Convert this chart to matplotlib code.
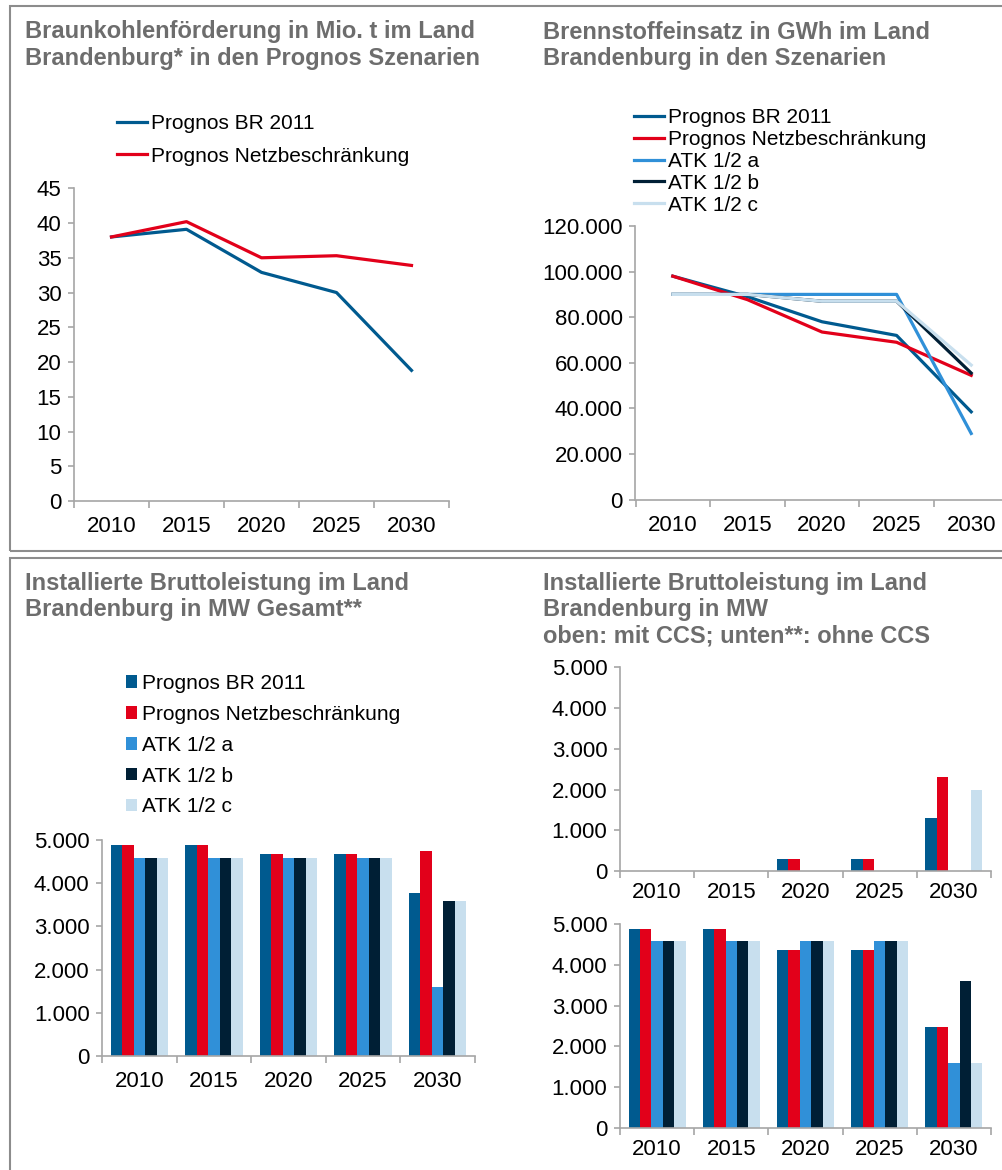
import matplotlib
matplotlib.use("Agg")
import matplotlib.pyplot as plt
import numpy as np
from matplotlib.patches import Rectangle
from matplotlib.ticker import FuncFormatter, FixedLocator

# FARBEN / SCHRIFT
plt.rcParams['font.family'] = ['Liberation Sans', 'DejaVu Sans']
cBR = "#005A8F"
cNetz = "#E2001A"
cA = "#3090D8"
cB = "#001F35"
cC = "#C8DFEE"
grauTitel = "#6D6D6D"
grauAchse = "#A6A6A6"
fs = 16        # Achsenbeschriftung
fsLeg = 15     # Legende

# DATEN
jahre = ['2010', '2015', '2020', '2025', '2030']
serien = ['Prognos BR 2011', 'Prognos Netzbeschränkung', 'ATK 1/2 a', 'ATK 1/2 b', 'ATK 1/2 c']
farben = [cBR, cNetz, cA, cB, cC]

kohle_br = [38.0, 39.1, 32.9, 30.0, 18.8]
kohle_netz = [38.0, 40.2, 35.0, 35.3, 33.9]

brenn_br = [98000, 89000, 78000, 72000, 38500]
brenn_netz = [98000, 87700, 73500, 69000, 54500]
brenn_a = [90000, 90000, 90000, 90000, 29000]
brenn_b = [90000, 90000, 87000, 87000, 55500]
brenn_c = [90000, 90000, 87000, 87000, 59000]

ges_br = [4880, 4880, 4680, 4680, 3770]
ges_netz = [4880, 4880, 4680, 4680, 4750]
ges_a = [4590, 4590, 4590, 4590, 1600]
ges_b = [4590, 4590, 4590, 4590, 3590]
ges_c = [4590, 4590, 4590, 4590, 3590]

ccs_br = [0, 0, 300, 300, 1300]
ccs_netz = [0, 0, 300, 300, 2300]
ccs_a = [0, 0, 0, 0, 0]
ccs_b = [0, 0, 0, 0, 0]
ccs_c = [0, 0, 0, 0, 2000]

ohne_br = [4880, 4880, 4370, 4370, 2480]
ohne_netz = [4880, 4880, 4370, 4370, 2480]
ohne_a = [4590, 4590, 4590, 4590, 1600]
ohne_b = [4590, 4590, 4590, 4590, 3600]
ohne_c = [4590, 4590, 4590, 4590, 1600]

W, H = 1003, 1170
fig = plt.figure(figsize=(W / 100, H / 100), dpi=100)


def px(x0, ytop, x1, ybot):
    """Achsenposition aus Pixelkoordinaten (oben links) in Figurbruchteile"""
    return [x0 / W, 1 - ybot / H, (x1 - x0) / W, (ybot - ytop) / H]


def tausender(v, pos):
    return f"{int(round(v)):,}".replace(",", ".")


def stil(ax, ymax, ystep, fmt=None, xpad=11):
    n = len(jahre)
    ax.set_xlim(-0.5, n - 0.5)
    ax.set_ylim(0, ymax)
    ax.set_yticks(np.arange(0, ymax + 1, ystep))
    if fmt:
        ax.yaxis.set_major_formatter(FuncFormatter(fmt))
    ax.set_xticks(range(n))
    ax.set_xticklabels(jahre)
    ax.xaxis.set_minor_locator(FixedLocator(np.arange(-0.5, n, 1)))
    for s in ['top', 'right']:
        ax.spines[s].set_visible(False)
    for s in ['left', 'bottom']:
        ax.spines[s].set_color(grauAchse)
        ax.spines[s].set_linewidth(1.2)
    ax.tick_params(axis='x', which='major', length=0, pad=xpad, labelsize=fs)
    ax.tick_params(axis='x', which='minor', length=5, width=1.2, color=grauAchse, direction='out')
    ax.tick_params(axis='y', length=4, width=1.2, color=grauAchse, pad=5, labelsize=fs)


def balken(ax, reihen):
    x = np.arange(len(jahre))
    bw = 0.154
    for i, (werte, farbe) in enumerate(zip(reihen, farben)):
        ax.bar(x + (i - 2) * bw, werte, bw, color=farbe, linewidth=0, label=serien[i])


def titel(x, y0, zeilen, dy):
    for i, z in enumerate(zeilen):
        fig.text(x / W, 1 - (y0 + i * dy) / H, z, fontsize=17, fontweight='bold',
                 color=grauTitel, ha='left', va='baseline')


# RAHMEN
fig.patches.append(Rectangle((10 / W, 1 - 551 / H), 1.1, 545 / H, transform=fig.transFigure,
                             fill=False, edgecolor='#8C8C8C', linewidth=1.5))
fig.patches.append(Rectangle((10 / W, -0.1), 1.1, 0.1 + 1 - 558 / H, transform=fig.transFigure,
                             fill=False, edgecolor='#8C8C8C', linewidth=1.5))

# OBEN LINKS: Braunkohlenfoerderung
ax1 = fig.add_axes(px(74, 188.3, 449, 501))
ax1.plot(range(5), kohle_br, color=cBR, lw=2.3, label=serien[0])
ax1.plot(range(5), kohle_netz, color=cNetz, lw=2.3, label=serien[1])
stil(ax1, 45, 5)
ax1.legend(loc='upper left', bbox_to_anchor=(117 / W, 1 - 114 / H), bbox_transform=fig.transFigure,
           frameon=False, fontsize=fsLeg, handlelength=1.45, handletextpad=0.2, borderpad=0,
           borderaxespad=0, labelspacing=0.65)
titel(25, 38, ["Braunkohlenförderung in Mio. t im Land",
               "Brandenburg* in den Prognos Szenarien"], 27)

# OBEN RECHTS: Brennstoffeinsatz
ax2 = fig.add_axes(px(635.5, 226, 1008.5, 499.6))
for werte, farbe, lab in zip([brenn_br, brenn_netz, brenn_a, brenn_b, brenn_c], farben, serien):
    ax2.plot(range(5), werte, color=farbe, lw=2.3, label=lab)
stil(ax2, 120000, 20000, tausender)
ax2.legend(loc='upper left', bbox_to_anchor=(634 / W, 1 - 108 / H), bbox_transform=fig.transFigure,
           frameon=False, fontsize=fsLeg, handlelength=1.45, handletextpad=0.2, borderpad=0,
           borderaxespad=0, labelspacing=0.14)
titel(543, 39, ["Brennstoffeinsatz in GWh im Land",
                "Brandenburg in den Szenarien"], 26)

# UNTEN LINKS: Bruttoleistung gesamt
ax3 = fig.add_axes(px(102, 840, 475, 1056))
balken(ax3, [ges_br, ges_netz, ges_a, ges_b, ges_c])
stil(ax3, 5000, 1000, tausender)
ax3.legend(loc='upper left', bbox_to_anchor=(126 / W, 1 - 674 / H), bbox_transform=fig.transFigure,
           frameon=False, fontsize=fsLeg, handlelength=0.53, handleheight=0.53, handletextpad=0.22,
           borderpad=0, borderaxespad=0, labelspacing=0.57)
titel(25, 590, ["Installierte Bruttoleistung im Land",
                "Brandenburg in MW Gesamt**"], 26)

# UNTEN RECHTS: mit CCS (oben) und ohne CCS (unten)
ax4 = fig.add_axes(px(620, 667.3, 991, 871))
balken(ax4, [ccs_br, ccs_netz, ccs_a, ccs_b, ccs_c])
stil(ax4, 5000, 1000, tausender, xpad=8)

ax5 = fig.add_axes(px(620, 924, 991, 1128))
balken(ax5, [ohne_br, ohne_netz, ohne_a, ohne_b, ohne_c])
stil(ax5, 5000, 1000, tausender, xpad=8)
titel(543, 590, ["Installierte Bruttoleistung im Land",
                 "Brandenburg in MW",
                 "oben: mit CCS; unten**: ohne CCS"], 26)

fig.savefig("out.png", dpi=100)
